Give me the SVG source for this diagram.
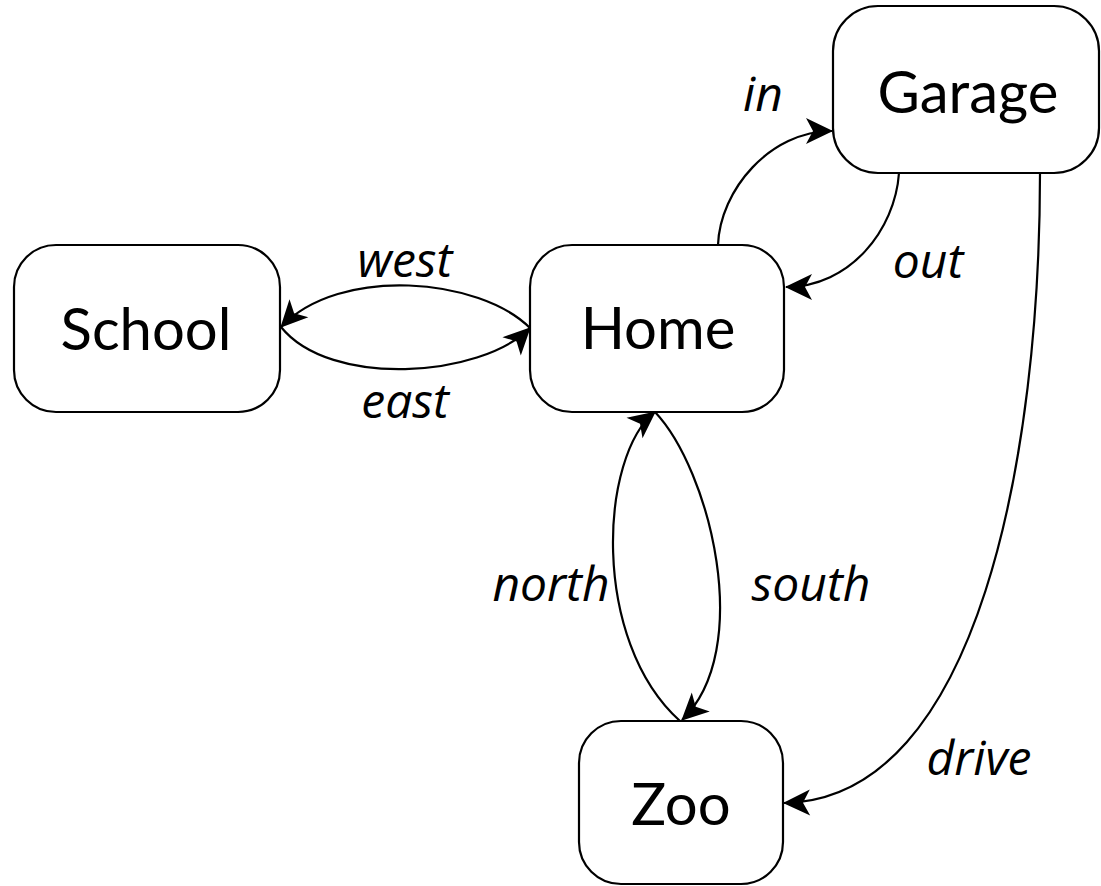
<svg xmlns="http://www.w3.org/2000/svg" width="1101" height="886" viewBox="0 0 1101 886">
<style>
.box{fill:#fff;stroke:#000;stroke-width:2.2}
.nl{font-family:Lato,"Liberation Sans",sans-serif;font-size:58px;text-anchor:middle;fill:#000}
.el{font-family:"Open Sans","Liberation Sans",sans-serif;font-style:italic;font-size:48px;font-weight:500;text-anchor:middle;fill:#000}
.edge{fill:none;stroke:#000;stroke-width:2.2;marker-end:url(#ah)}
</style>
<defs>
<marker id="ah" markerUnits="userSpaceOnUse" viewBox="-28 -14 30 28" refX="0" refY="0" markerWidth="30" markerHeight="28" orient="auto">
<path d="M1,0 L-26,-13 L-19,0 L-26,13 Z" fill="#000"/>
</marker>
</defs>
<rect width="1101" height="886" fill="#fff"/>
<g id="garage"><rect class="box" x="833" y="6" width="266" height="167" rx="45" ry="45"/><text class="nl" x="968" y="113">Garage</text></g>
<g id="home"><rect class="box" x="530" y="245" width="254" height="167" rx="42" ry="42"/><text class="nl" x="658" y="349">Home</text></g>
<g id="school"><rect class="box" x="14" y="245" width="266" height="167" rx="42" ry="42"/><text class="nl" x="146" y="350">School</text></g>
<g id="zoo"><rect class="box" x="579" y="721" width="204" height="163" rx="42" ry="42"/><text class="nl" x="681" y="825">Zoo</text></g>
<g id="connectors">
<path class="edge" d="M718,245 C720,190 770,131 832,131"/>
<path class="edge" d="M899,173 C895,230 850,287 786,287"/>
<path class="edge" d="M530,328 C480,278 340,265 281,327"/>
<path class="edge" d="M281,327 C330,388 480,378 530,328"/>
<path class="edge" d="M655,412 C710,470 755,650 682,720"/>
<path class="edge" d="M680,721 C590,640 600,455 655,412"/>
<path class="edge" d="M1040,173 C1040,450 980,800 784,803"/>
</g>
<g id="labels">
<text class="el" x="763" y="111">in</text>
<text class="el" x="928" y="278">out</text>
<text class="el" x="405" y="277">west</text>
<text class="el" x="405" y="418">east</text>
<text class="el" x="551" y="601">north</text>
<text class="el" x="811" y="601">south</text>
<text class="el" x="979" y="775">drive</text>
</g>
</svg>
